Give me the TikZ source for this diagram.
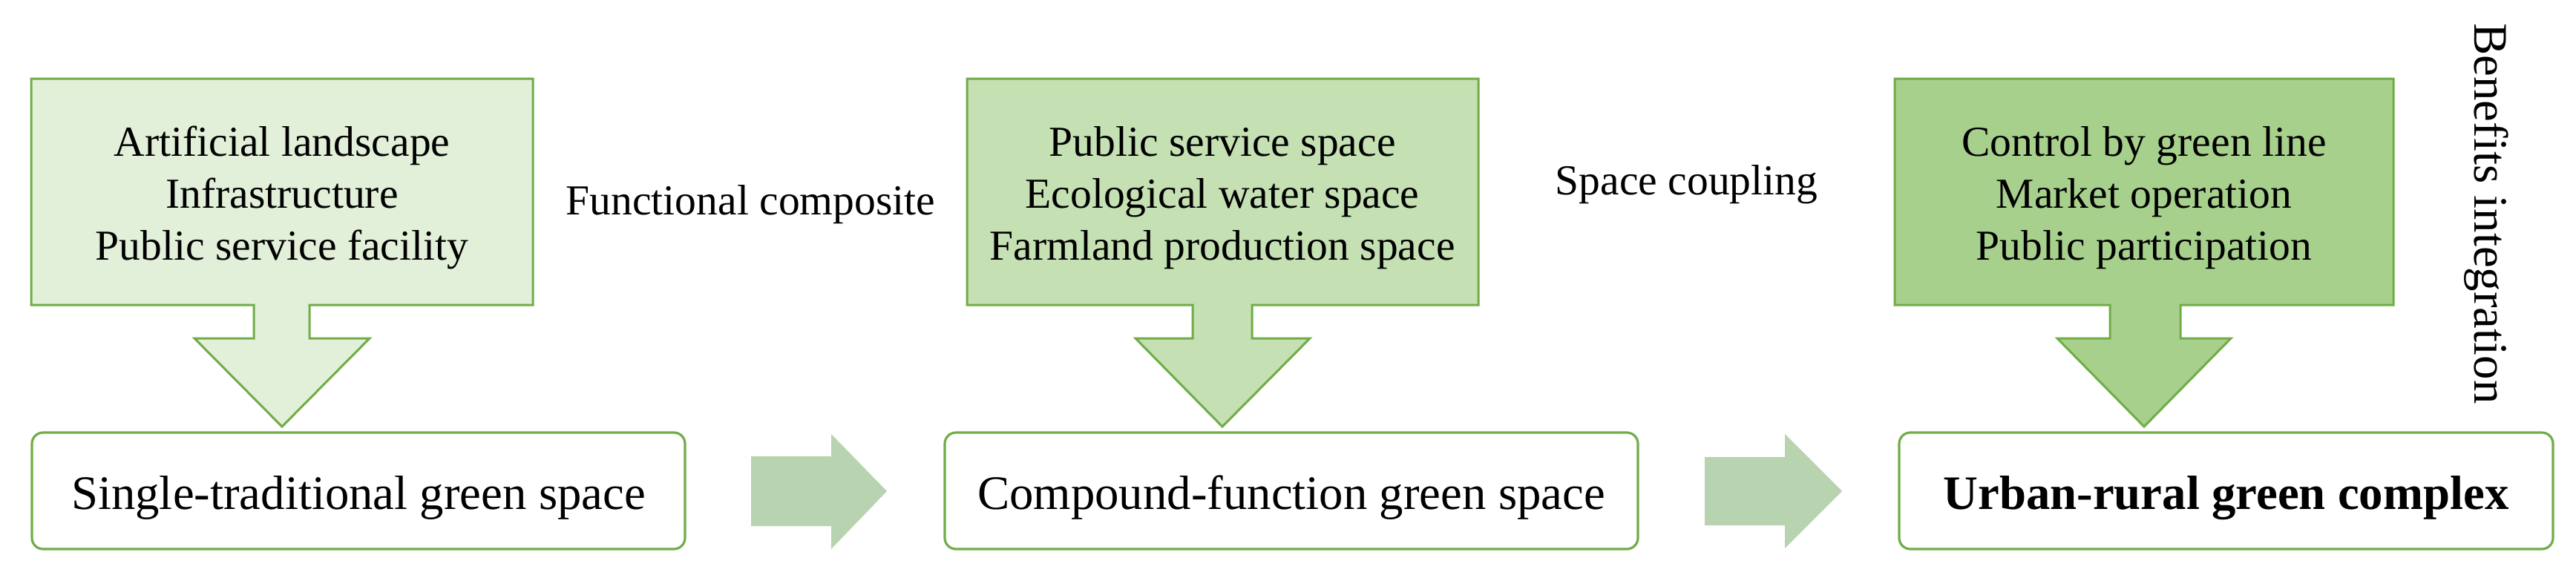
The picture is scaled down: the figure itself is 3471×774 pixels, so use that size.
\documentclass[tikz,border=0pt]{standalone}
\usepackage{fontspec}
\setmainfont{Liberation Serif}
\definecolor{gline}{HTML}{70AD47}
\definecolor{gA}{HTML}{E2EFD9}
\definecolor{gB}{HTML}{C5E0B3}
\definecolor{gC}{HTML}{A8D08D}
\definecolor{garrow}{RGB}{184,211,175}
\begin{document}
\begin{tikzpicture}[x=0.25pt,y=-0.25pt,
  callout/.style={draw=gline,line width=0.75pt,line join=miter},
  botbox/.style={draw=gline,line width=0.8pt,rounded corners=3.75pt,fill=white,inner sep=0pt,minimum height=39.25pt},
  boxtext/.style={font=\fontsize{14.4pt}{17.5pt}\selectfont,inner sep=0pt,anchor=base},
  bigtext/.style={font=\fontsize{16.2pt}{19pt}\selectfont,inner sep=0pt,anchor=base},
  flowarrow/.style={fill=garrow,draw=none}]
\useasboundingbox (0,0) rectangle (3471,774);
\fill[white] (0,0) rectangle (3471,774);

% top callouts
\draw[callout,fill=gA] (42,106) -- (718,106) -- (718,411) -- (417,411) -- (417,456) -- (498,456) -- (380,575) -- (262,456) -- (342,456) -- (342,411) -- (42,411) -- cycle;
\draw[callout,fill=gB] (1303,106) -- (1992,106) -- (1992,411) -- (1687,411) -- (1687,456) -- (1765,456) -- (1647,575) -- (1530,456) -- (1607,456) -- (1607,411) -- (1303,411) -- cycle;
\draw[callout,fill=gC] (2553,106) -- (3225,106) -- (3225,411) -- (2938,411) -- (2938,456) -- (3006,456) -- (2889,575) -- (2772,456) -- (2843,456) -- (2843,411) -- (2553,411) -- cycle;

\node[boxtext] (a1) at (380,210) {Artificial landscape};
\node[boxtext] (a2) at (380,280) {Infrastructure};
\node[boxtext] (a3) at (380,350) {Public service facility};

\node[boxtext] (b1) at (1647,210) {Public service space};
\node[boxtext] (b2) at (1647,280) {Ecological water space};
\node[boxtext] (b3) at (1647,350) {Farmland production space};

\node[boxtext] (c1) at (2889,210) {Control by green line};
\node[boxtext] (c2) at (2889,280) {Market operation};
\node[boxtext] (c3) at (2889,350) {Public participation};

\node[boxtext] (fc) at (1011.5,289) {Functional composite};
\node[boxtext] (sc) at (2272.5,262) {Space coupling};
\node[bigtext,anchor=center,rotate=-90] (bi) at (3350,288) {Benefits integration};

% bottom boxes
\node[botbox,minimum width=220pt] (s1) at (483,661.5) {};
\node[botbox,minimum width=233.5pt] (s2) at (1740,661.5) {};
\node[botbox,minimum width=220.25pt] (s3) at (2999.5,661.5) {};
\node[bigtext] (t1) at (483,686) {Single-traditional green space};
\node[bigtext] (t2) at (1740,686) {Compound-function green space};
\node[bigtext] (t3) at (2999.5,686) {\textbf{Urban-rural green complex}};

% flow arrows
\fill[flowarrow] (1012,615) -- (1120,615) -- (1120,585) -- (1195,662) -- (1120,740) -- (1120,709) -- (1012,709) -- cycle;
\fill[flowarrow] (2297,616) -- (2405,616) -- (2405,585) -- (2482,662) -- (2405,739) -- (2405,708) -- (2297,708) -- cycle;
\end{tikzpicture}
\end{document}
